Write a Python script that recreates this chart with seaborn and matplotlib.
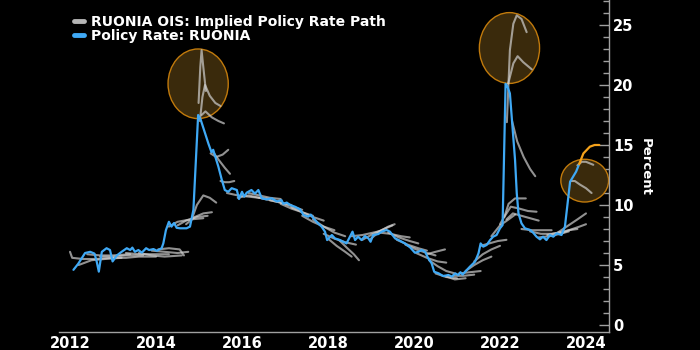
import numpy as np
import pandas as pd
import matplotlib
matplotlib.use("Agg")
import matplotlib.pyplot as plt
from matplotlib.patches import Ellipse
from matplotlib.lines import Line2D
from matplotlib.ticker import MultipleLocator, FixedLocator
import seaborn as sns

# ---------------- data ----------------
policy_dates = [
    2012.08, 2012.19, 2012.35, 2012.47, 2012.57, 2012.62, 2012.67, 2012.74, 2012.85, 2012.93, 2012.99,
    2013.09, 2013.20, 2013.32, 2013.40, 2013.45, 2013.51, 2013.59, 2013.67, 2013.77, 2013.84, 2013.94,
    2014.02, 2014.13, 2014.17, 2014.23, 2014.30, 2014.36, 2014.42, 2014.48, 2014.56, 2014.71, 2014.79, 2014.87, 2014.98,
    2015.04, 2015.12, 2015.22, 2015.29, 2015.33, 2015.45, 2015.53, 2015.60, 2015.68, 2015.76, 2015.88, 2015.93,
    2016.00, 2016.05, 2016.11, 2016.22, 2016.30, 2016.38, 2016.46, 2016.57, 2016.69, 2016.81, 2016.92, 2016.96,
    2017.04, 2017.12, 2017.23, 2017.35, 2017.43, 2017.54, 2017.60, 2017.66, 2017.77, 2017.85, 2017.93, 2017.98,
    2018.09, 2018.16, 2018.28, 2018.43, 2018.57, 2018.63, 2018.70, 2018.78, 2018.86, 2018.94, 2018.99,
    2019.05, 2019.17, 2019.25, 2019.36, 2019.44, 2019.56, 2019.67, 2019.79, 2019.91,
    2020.02, 2020.10, 2020.18, 2020.26, 2020.33, 2020.41, 2020.47, 2020.57, 2020.68, 2020.80, 2020.88, 2020.96,
    2021.03, 2021.08, 2021.13, 2021.19, 2021.30, 2021.42, 2021.50, 2021.55, 2021.61, 2021.69, 2021.77, 2021.84, 2021.92,
    2022.00, 2022.06, 2022.13, 2022.17, 2022.23, 2022.29, 2022.35, 2022.39, 2022.43, 2022.50, 2022.58, 2022.70,
    2022.77, 2022.85, 2022.93,
    2023.00, 2023.08, 2023.16, 2023.24, 2023.32, 2023.43, 2023.51, 2023.63, 2023.77, 2023.84,
]
policy_rate = [
    4.60, 5.10, 6.00, 6.10, 5.95, 5.30, 4.45, 6.10, 6.40, 6.25, 5.30,
    5.80, 6.10, 6.40, 6.25, 6.45, 6.10, 6.25, 6.03, 6.40, 6.25, 6.33,
    6.19, 6.40, 6.80, 7.90, 8.60, 8.20, 8.50, 8.10, 8.06, 8.06, 8.20, 9.60, 17.50,
    17.10, 16.20, 15.10, 14.40, 14.60, 13.20, 12.10, 11.25, 11.10, 11.40, 11.25, 10.50,
    11.10, 10.70, 11.03, 11.25, 10.95, 11.25, 10.56, 10.47, 10.56, 10.30, 10.40, 10.10,
    10.20, 10.00, 9.86, 9.64, 9.17, 9.03, 9.20, 8.90, 8.47, 8.20, 7.78, 7.08,
    7.50, 7.22, 7.08, 6.80, 7.78, 7.08, 7.36, 7.08, 7.42, 7.22, 6.94,
    7.50, 7.58, 7.78, 7.92, 7.78, 7.22, 7.03, 6.80, 6.47,
    6.03, 6.10, 6.25, 6.10, 5.56, 5.14, 4.44, 4.31, 4.08, 4.17, 4.03, 4.30,
    4.17, 4.40, 4.20, 4.44, 4.86, 5.28, 5.97, 6.80, 6.53, 6.67, 7.08, 7.36, 7.50,
    8.06, 8.33, 20.10, 19.90, 19.30, 16.50, 13.75, 10.97, 9.30, 8.47, 8.06, 7.92,
    7.70, 7.36, 7.14,
    7.36, 7.08, 7.50, 7.36, 7.64, 7.50, 8.20, 11.94, 12.78, 13.40,
]

latest_dates = [2023.84, 2023.94, 2024.09, 2024.20, 2024.31]
latest_path = [13.40, 14.30, 14.86, 15.00, 15.00]

ois_dates = [
    [2012.00, 2012.05, 2012.30, 2012.60, 2013.00],
    [2012.20, 2012.50, 2012.80, 2013.20],
    [2012.40, 2012.70, 2013.00, 2013.40],
    [2012.70, 2013.00, 2013.30, 2013.70],
    [2013.00, 2013.30, 2013.60, 2014.00],
    [2013.30, 2013.60, 2013.90, 2014.30],
    [2013.60, 2013.90, 2014.20, 2014.60],
    [2013.90, 2014.20, 2014.50, 2014.75],
    [2014.05, 2014.30, 2014.55, 2014.65],
    [2014.30, 2014.50, 2014.80, 2015.10],
    [2014.50, 2014.70, 2014.95, 2015.20],
    [2014.70, 2014.90, 2015.10, 2015.30],
    [2014.85, 2014.95, 2015.10, 2015.25, 2015.40],
    [2014.99, 2015.03, 2015.06, 2015.10, 2015.16],
    [2015.02, 2015.08, 2015.14, 2015.25, 2015.38, 2015.50],
    [2015.06, 2015.15, 2015.30, 2015.45, 2015.58],
    [2015.27, 2015.40, 2015.55, 2015.68],
    [2015.33, 2015.45, 2015.60, 2015.72],
    [2015.50, 2015.60, 2015.70, 2015.82],
    [2015.65, 2015.90, 2016.15, 2016.40],
    [2015.90, 2016.15, 2016.40, 2016.65],
    [2016.15, 2016.40, 2016.65, 2016.90],
    [2016.40, 2016.65, 2016.90, 2017.15],
    [2016.65, 2016.90, 2017.15, 2017.40],
    [2016.90, 2017.15, 2017.40, 2017.65],
    [2017.15, 2017.40, 2017.65, 2017.90],
    [2017.40, 2017.65, 2017.90, 2018.15],
    [2017.65, 2017.90, 2018.15, 2018.40],
    [2017.90, 2018.15, 2018.40, 2018.65],
    [2018.00, 2018.20, 2018.40, 2018.55],
    [2018.25, 2018.45, 2018.60, 2018.72],
    [2018.55, 2018.80, 2019.05, 2019.30],
    [2018.80, 2019.05, 2019.30, 2019.50],
    [2019.00, 2019.20, 2019.40, 2019.55],
    [2019.20, 2019.45, 2019.70, 2019.90],
    [2019.40, 2019.65, 2019.90, 2020.10],
    [2019.60, 2019.85, 2020.10, 2020.30],
    [2019.80, 2020.05, 2020.30, 2020.50],
    [2020.05, 2020.30, 2020.55, 2020.75],
    [2020.30, 2020.50, 2020.72],
    [2020.35, 2020.55, 2020.75, 2020.95],
    [2020.50, 2020.75, 2021.00],
    [2020.70, 2020.95, 2021.20],
    [2020.90, 2021.15, 2021.40],
    [2021.05, 2021.30, 2021.55],
    [2021.20, 2021.40, 2021.60, 2021.80],
    [2021.40, 2021.60, 2021.80, 2022.00],
    [2021.55, 2021.75, 2021.95, 2022.15],
    [2021.80, 2022.00, 2022.20, 2022.35],
    [2022.00, 2022.10, 2022.20, 2022.35, 2022.60],
    [2022.10, 2022.25, 2022.45, 2022.65, 2022.85],
    [2022.15, 2022.30, 2022.50, 2022.70, 2022.90],
    [2022.16, 2022.23, 2022.31, 2022.39, 2022.50, 2022.62],
    [2022.19, 2022.31, 2022.41, 2022.54, 2022.74],
    [2022.28, 2022.40, 2022.55, 2022.70, 2022.82],
    [2022.50, 2022.75, 2023.00, 2023.20],
    [2022.70, 2022.95, 2023.20, 2023.40],
    [2022.90, 2023.15, 2023.40, 2023.60],
    [2023.10, 2023.35, 2023.60, 2023.80],
    [2023.30, 2023.55, 2023.80, 2024.00],
    [2023.40, 2023.60, 2023.85, 2024.00],
    [2023.65, 2023.74, 2023.86, 2024.00, 2024.13],
    [2023.80, 2023.90, 2024.00, 2024.17],
]
ois_rates = [
    [6.10, 5.60, 5.50, 5.50, 5.60],
    [5.00, 5.40, 5.50, 5.60],
    [5.90, 5.80, 5.80, 5.90],
    [5.70, 5.70, 5.80, 5.80],
    [5.60, 5.60, 5.70, 5.70],
    [6.00, 5.90, 5.90, 5.90],
    [6.00, 5.80, 5.70, 5.80],
    [6.20, 6.10, 6.00, 6.10],
    [6.30, 6.40, 6.30, 5.80],
    [8.20, 8.60, 8.80, 8.90],
    [8.30, 8.70, 9.00, 9.10],
    [8.40, 9.00, 9.30, 9.40],
    [9.00, 10.00, 10.80, 10.60, 10.20],
    [18.50, 21.50, 22.90, 21.50, 19.50],
    [17.00, 19.00, 20.00, 19.10, 18.50, 18.25],
    [17.50, 17.80, 17.30, 17.00, 16.80],
    [14.30, 14.00, 14.20, 14.60],
    [14.40, 13.80, 13.10, 12.60],
    [12.00, 11.90, 11.90, 12.00],
    [11.00, 10.80, 10.70, 10.60],
    [10.60, 10.80, 10.60, 10.50],
    [11.00, 10.80, 10.60, 10.50],
    [10.60, 10.40, 10.20, 10.00],
    [10.40, 10.20, 9.90, 9.60],
    [10.10, 9.70, 9.40, 9.10],
    [9.80, 9.40, 9.00, 8.70],
    [9.10, 8.60, 8.20, 7.90],
    [8.80, 8.20, 7.70, 7.40],
    [7.60, 7.20, 6.90, 6.70],
    [7.20, 6.60, 6.10, 5.70],
    [7.10, 6.40, 5.90, 5.40],
    [7.40, 7.50, 7.70, 7.90],
    [7.10, 7.60, 8.00, 8.30],
    [7.20, 7.80, 8.20, 8.40],
    [7.70, 7.60, 7.40, 7.30],
    [7.70, 7.30, 7.00, 6.80],
    [7.10, 6.70, 6.40, 6.20],
    [6.70, 6.30, 6.00, 5.80],
    [6.00, 5.60, 5.30, 5.20],
    [5.90, 6.10, 6.30],
    [5.40, 4.90, 4.50, 4.30],
    [4.30, 4.00, 3.90],
    [4.10, 3.80, 3.90],
    [4.10, 4.10, 4.20],
    [4.30, 4.40, 4.50],
    [4.50, 5.00, 5.40, 5.70],
    [5.30, 5.90, 6.30, 6.60],
    [6.60, 6.80, 7.00, 7.10],
    [7.40, 8.30, 8.80, 9.20],
    [8.40, 9.00, 10.10, 10.55, 10.55],
    [9.00, 9.86, 9.70, 9.50, 9.44],
    [8.80, 9.30, 9.10, 8.90, 8.70],
    [16.90, 22.90, 25.10, 25.80, 25.50, 24.40],
    [20.10, 21.80, 22.40, 21.90, 21.30],
    [17.00, 15.30, 14.00, 13.00, 12.40],
    [8.00, 7.90, 7.90, 7.90],
    [7.80, 7.60, 7.60, 7.70],
    [7.30, 7.40, 7.60, 7.80],
    [7.50, 7.70, 7.90, 8.00],
    [7.60, 8.20, 8.80, 9.30],
    [7.60, 7.90, 8.20, 8.40],
    [12.00, 12.00, 11.70, 11.40, 11.00],
    [13.30, 13.60, 13.60, 13.35],
]

highlight_centers = [(2014.98, 20.1), (2022.22, 23.08), (2023.97, 12.03)]
highlight_sizes = [(1.40, 5.8), (1.40, 5.9), (1.11, 3.56)]

x_ticks = [2012, 2014, 2016, 2018, 2020, 2022, 2024]
y_ticks = [0, 5, 10, 15, 20, 25]

# ---------------- style ----------------
BG = "#000000"
BLUE = "#3fa9f5"
GRAY = "#d0d0d0"
ORANGE = "#f5a21b"
AXIS = "#a0a0a0"

sns.set_theme(style="dark")
plt.rcParams.update({
    "figure.facecolor": BG,
    "axes.facecolor": BG,
    "savefig.facecolor": BG,
    "text.color": "white",
    "font.weight": "bold",
    "axes.labelweight": "bold",
})
plt.rcParams["font.family"] = ["DejaVu Sans"]

fig = plt.figure(figsize=(7, 3.5), dpi=100)
ax = fig.add_axes([59 / 700, 18 / 350, 550 / 700, 332 / 350])
ax.set_facecolor(BG)
ax.grid(False)

# highlight ellipses
for (cx, cy), (w, h) in zip(highlight_centers, highlight_sizes):
    ax.add_patch(Ellipse((cx, cy), w, h, facecolor="#3a2a0c", edgecolor="#c17a0c",
                         lw=1.0, zorder=1))

# OIS implied paths
rows = []
for i, (xs, ys) in enumerate(zip(ois_dates, ois_rates)):
    for xv, yv in zip(xs, ys):
        rows.append({"curve": i, "date": xv, "rate": yv})
ois_df = pd.DataFrame(rows)
sns.lineplot(data=ois_df, x="date", y="rate", units="curve", estimator=None,
             sort=False, color=GRAY, lw=1.5, alpha=0.7, ax=ax, legend=False, zorder=2)

# policy rate
pol_df = pd.DataFrame({"date": policy_dates, "rate": policy_rate})
sns.lineplot(data=pol_df, x="date", y="rate", sort=False, color=BLUE, lw=1.6,
             ax=ax, legend=False, zorder=3)

latest_df = pd.DataFrame({"date": latest_dates, "rate": latest_path})
sns.lineplot(data=latest_df, x="date", y="rate", sort=False, color=ORANGE, lw=1.6,
             ax=ax, legend=False, zorder=3)

# axes
ax.set_xlim(2011.744, 2024.535)
ax.set_ylim(-0.58, 27.08)
ax.set_xlabel("")
ax.yaxis.tick_right()
ax.set_xticks(x_ticks)
ax.set_xticklabels([str(t) for t in x_ticks])
ax.xaxis.set_minor_locator(FixedLocator([2013, 2015, 2017, 2019, 2021, 2023]))
ax.set_yticks(y_ticks)
ax.set_yticklabels([str(t) for t in y_ticks])
ax.yaxis.set_minor_locator(MultipleLocator(1))
ax.tick_params(which="major", direction="in", length=7, width=1, color=AXIS,
               labelcolor="white", labelsize=10.5, pad=3)
ax.tick_params(which="minor", direction="in", length=4, width=1, color=AXIS)
ax.tick_params(axis="y", which="both", left=False, right=True, labelleft=False, labelright=True)
for s in ["top", "left"]:
    ax.spines[s].set_visible(False)
for s in ["right", "bottom"]:
    ax.spines[s].set_visible(True)
    ax.spines[s].set_color(AXIS)
    ax.spines[s].set_linewidth(1)

ax.set_ylabel("Percent", rotation=270, color="white", fontsize=9.5, fontweight="bold",
              va="center", ha="center")
ax.yaxis.set_label_position("right")
ax.yaxis.set_label_coords(1.078, 0.497)

handles = [Line2D([0], [0], color="#b5b5b5", lw=3.5),
           Line2D([0], [0], color=BLUE, lw=3.5)]
leg = ax.legend(handles, ["RUONIA OIS: Implied Policy Rate Path", "Policy Rate: RUONIA"],
                loc="upper left", bbox_to_anchor=(0.028, 0.955), frameon=False,
                handlelength=0.7, handletextpad=0.5, labelspacing=0.0,
                borderpad=0, borderaxespad=0, prop={"weight": "bold", "size": 10})
for t in leg.get_texts():
    t.set_color("white")

fig.savefig("out.png", dpi=100, facecolor=BG)
